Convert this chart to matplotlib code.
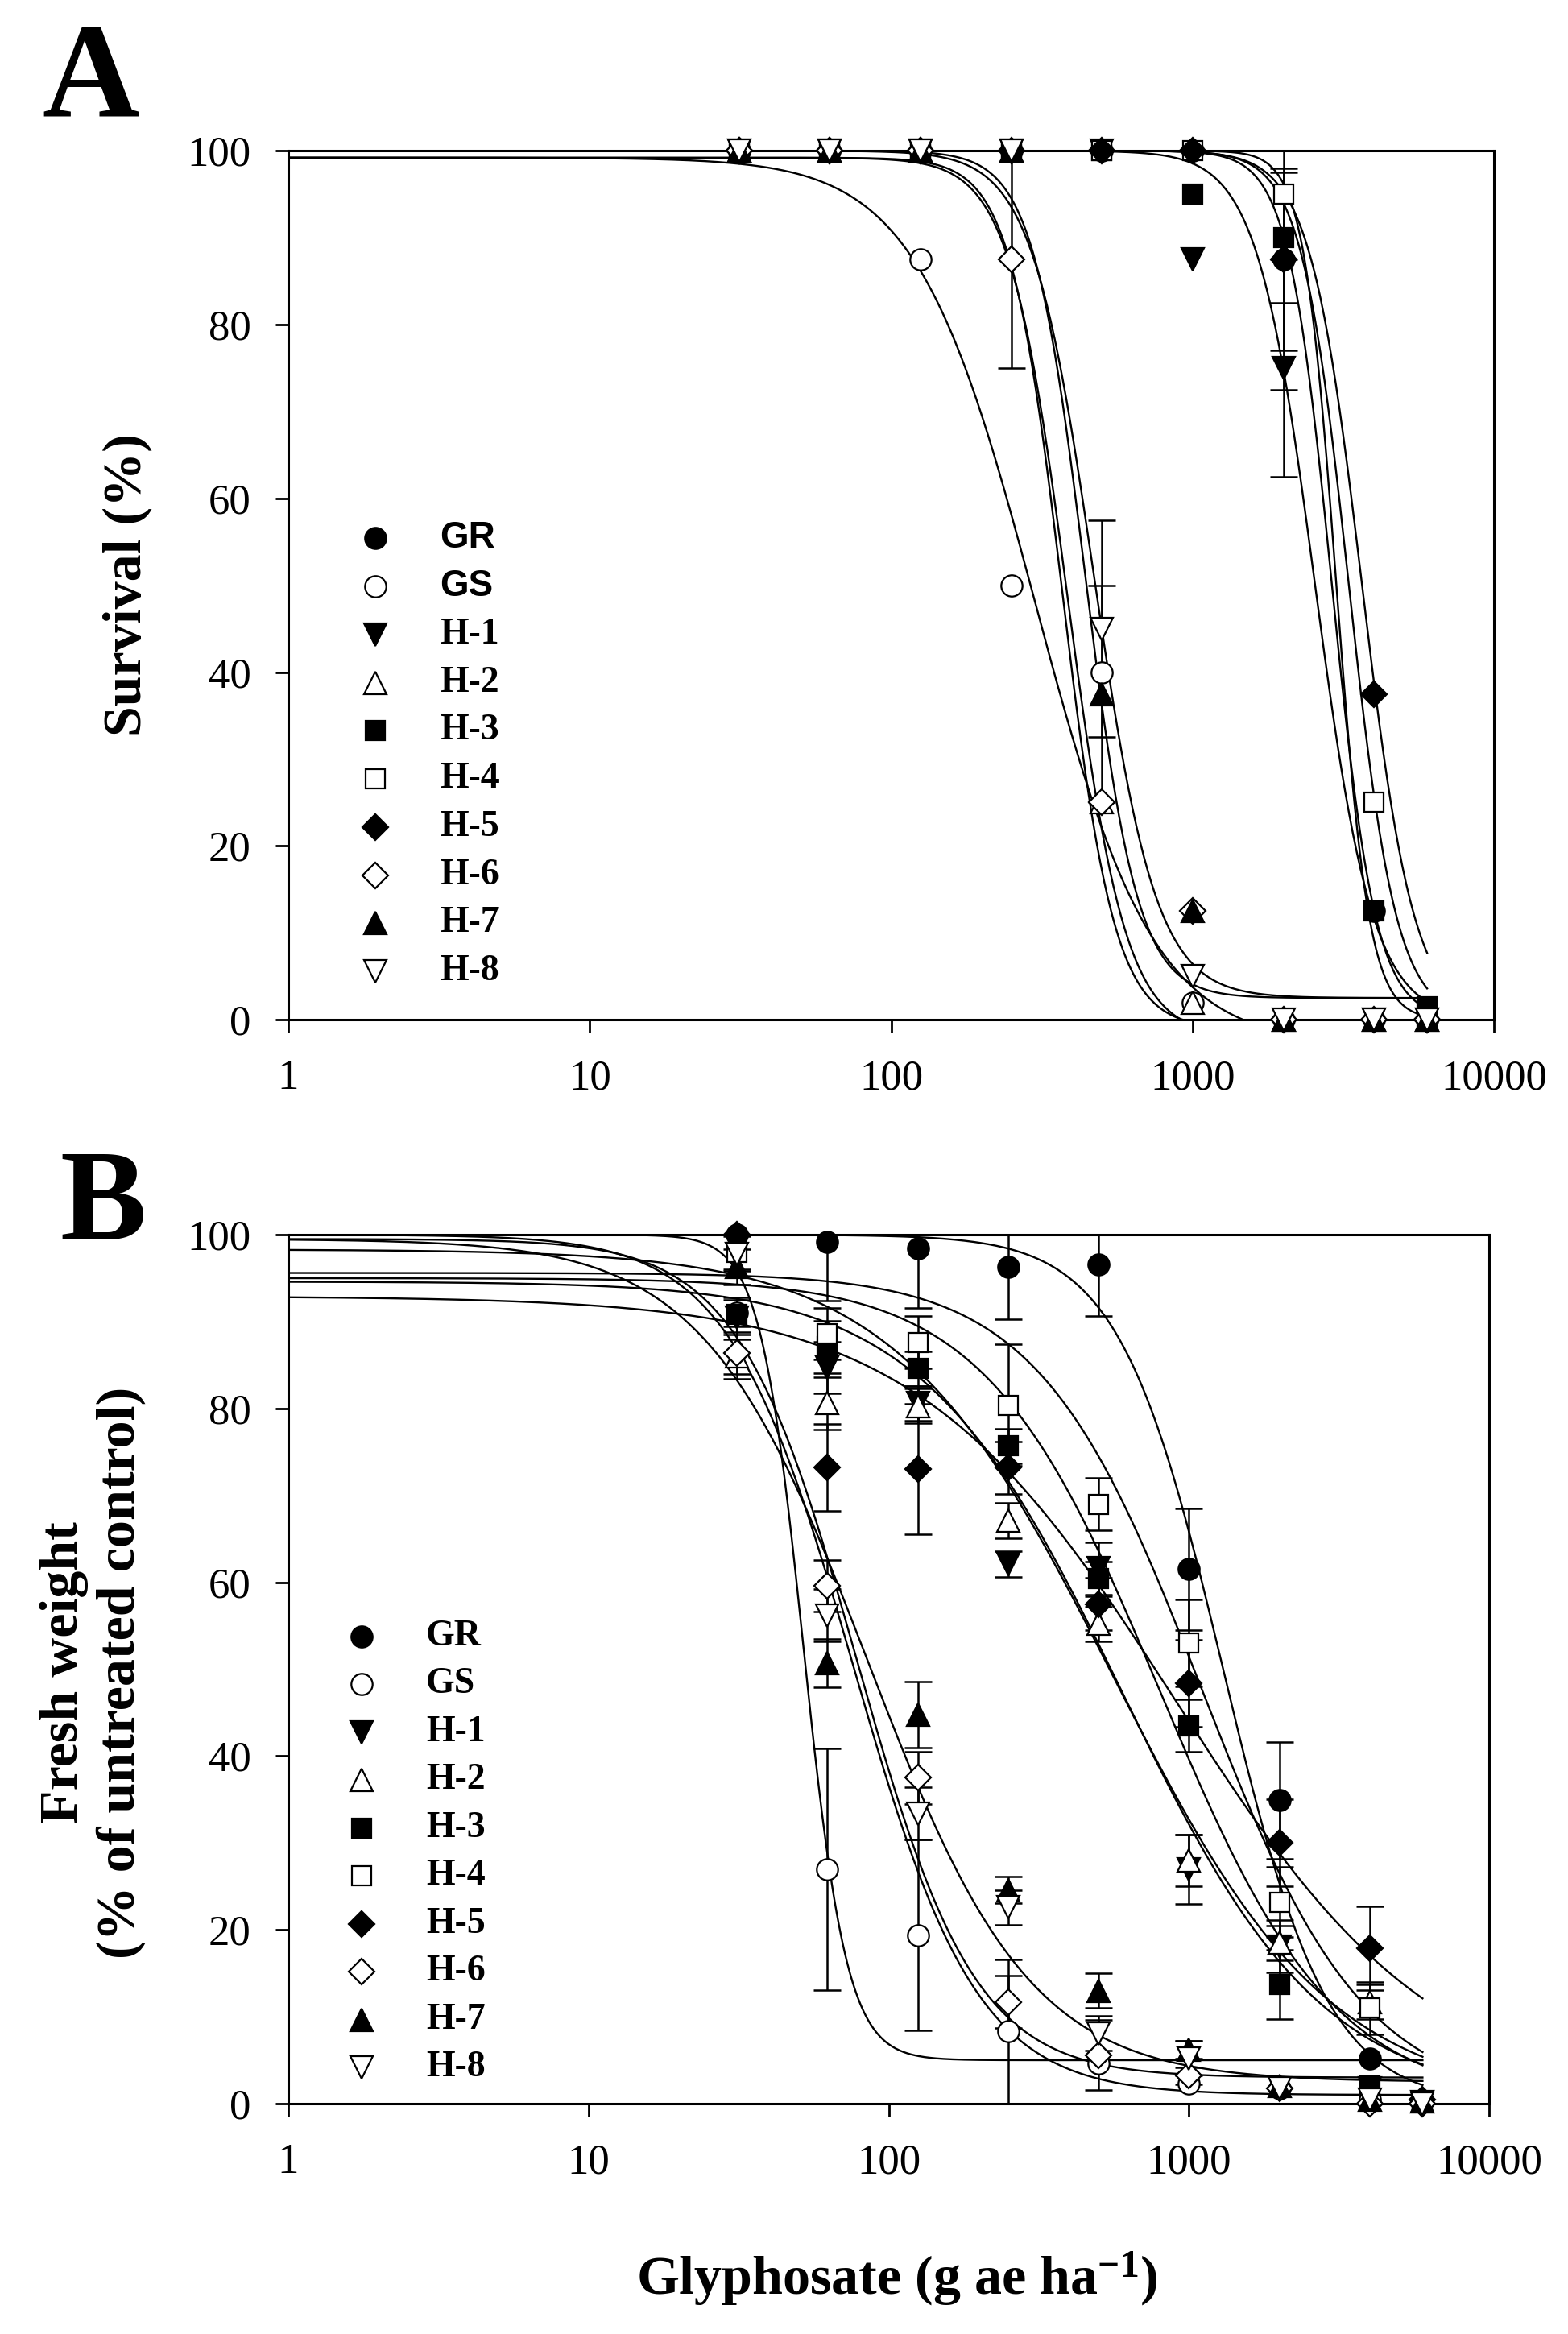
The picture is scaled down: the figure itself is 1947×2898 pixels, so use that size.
import numpy as np
import matplotlib
matplotlib.use('Agg')
import matplotlib.pyplot as plt
from matplotlib.ticker import FixedLocator, FixedFormatter, NullLocator

plt.rcParams['font.family'] = ['Liberation Serif', 'DejaVu Serif']
plt.rcParams['mathtext.fontset'] = 'custom'
plt.rcParams['mathtext.rm'] = 'Liberation Serif:bold'
plt.rcParams['mathtext.bf'] = 'Liberation Serif:bold'
plt.rcParams['mathtext.default'] = 'bf'

# 供試量 (g ae/ha)
doses = [31.25, 62.5, 125, 250, 500, 1000, 2000, 4000, 6000]
lines = ['GR', 'GS', 'H-1', 'H-2', 'H-3', 'H-4', 'H-5', 'H-6', 'H-7', 'H-8']

# A: 生存率 (%)
surv_gr = [100, 100, 100, 100, 100, 100, 87.5, 12.5, 0]
surv_gs = [100, 100, 87.5, 50, 40, 2, 0, 0, 0]
surv_h1 = [100, 100, 100, 100, 100, 87.5, 75, 0, 0]
surv_h2 = [100, 100, 100, 100, 25, 2, 0, 0, 0]
surv_h3 = [100, 100, 100, 100, 100, 95, 90, 12.5, 1.5]
surv_h4 = [100, 100, 100, 100, 100, 100, 95, 25, 0]
surv_h5 = [100, 100, 100, 100, 100, 100, 87.5, 37.5, 0]
surv_h6 = [100, 100, 100, 87.5, 25, 12.5, 0, 0, 0]
surv_h7 = [100, 100, 100, 100, 37.5, 12.5, 0, 0, 0]
surv_h8 = [100, 100, 100, 100, 45, 5, 0, 0, 0]

surv_err_gr = [0, 0, 0, 0, 0, 0, 10.5, 0, 0]
surv_err_gs = [0, 0, 0, 0, 0, 0, 0, 0, 0]
surv_err_h1 = [0, 0, 0, 0, 0, 0, 12.5, 0, 0]
surv_err_h2 = [0, 0, 0, 0, 0, 0, 0, 0, 0]
surv_err_h3 = [0, 0, 0, 0, 0, 0, 7.5, 0, 0]
surv_err_h4 = [0, 0, 0, 0, 0, 0, 0, 0, 0]
surv_err_h5 = [0, 0, 0, 0, 0, 0, 15, 0, 0]
surv_err_h6 = [0, 0, 0, 12.5, 0, 0, 0, 0, 0]
surv_err_h7 = [0, 0, 0, 0, 12.5, 0, 0, 0, 0]
surv_err_h8 = [0, 0, 0, 0, 12.5, 0, 0, 0, 0]

# A: 回帰曲線のパラメータ (下限, 上限, ED50, 傾き)
a_lower = [0, -3, 0, -1, 0, 0, 0, -2, 2.5, 2.5]
a_upper = [100, 99.2, 100, 99.2, 100, 100, 100, 99.2, 100, 100]
a_ed50 = [3000, 300, 2550, 370, 2900, 3300, 3650, 385, 440, 470]
a_slope = [8, 2.2, 4.5, 5, 6, 5.5, 5, 4.5, 5, 4.2]

# B: 生体重 (% of untreated control)
fw_gr = [100, 99.2, 98.4, 96.3, 96.6, 61.5, 34.9, 5.2, 0.3]
fw_gs = [91, 27, 19.4, 8.3, 4.6, 2.3, 1.8, 0.5, 0.3]
fw_h1 = [90.5, 84.7, 80.6, 62.1, 61.6, 27.0, 18.1, 1.8, 0.2]
fw_h2 = [86, 80.6, 80.3, 67.1, 55.2, 28.0, 18.5, 11.7, 0.3]
fw_h3 = [90.8, 87.1, 84.6, 75.7, 60.4, 43.5, 13.7, 2.0, 0.3]
fw_h4 = [98, 88.6, 87.6, 80.4, 69.0, 53.0, 23.2, 11.0, 0.3]
fw_h5 = [100, 73.2, 73.0, 73.2, 57.5, 48.4, 30.0, 17.9, 0.5]
fw_h6 = [86.4, 59.6, 37.5, 11.7, 5.6, 3.2, 1.8, 0, 0]
fw_h7 = [96.3, 50.7, 44.8, 24.6, 13.0, 6.2, 2.0, 0.5, 0.3]
fw_h8 = [97.8, 56.2, 33.4, 22.6, 8.1, 5.2, 1.8, 0.5, 0]

fw_err_gr = [0, 6.8, 6.8, 6, 6, 7, 6.7, 0, 0]
fw_err_gs = [0, 13.9, 11, 8.3, 0, 0, 0, 0, 0]
fw_err_h1 = [2, 3, 2, 1.5, 3, 4, 3, 0, 0]
fw_err_h2 = [2, 3, 2, 2, 2, 3, 2, 2, 0]
fw_err_h3 = [2, 3, 2, 2, 2, 3, 4, 0, 0]
fw_err_h4 = [2, 3, 3, 7, 3, 5, 4, 3, 0]
fw_err_h5 = [0, 5, 7.5, 3, 3, 5, 5, 4.8, 0]
fw_err_h6 = [3, 3, 3, 3, 4, 1, 0, 0, 0]
fw_err_h7 = [2, 2.8, 3.8, 1.5, 2, 1, 0, 0, 0]
fw_err_h8 = [2, 3, 3, 2, 2, 2, 0, 0, 0]

b_lower = [0, 5, 0, 0, 0, 0, 0, 1, 2.5, 3]
b_upper = [100, 100, 94.6, 98.3, 95, 95.6, 92.9, 100, 99.5, 99.5]
b_ed50 = [1300, 52, 600, 560, 800, 1100, 900, 76, 85, 78]
b_slope = [2.5, 6, 1.3, 1.2, 1.5, 1.6, 1.0, 2.1, 1.6, 2.2]

# マーカー
styles = {
    'GR': ('o', 'black', 19), 'GS': ('o', 'white', 19),
    'H-1': ('v', 'black', 20), 'H-2': ('^', 'white', 20),
    'H-3': ('s', 'black', 17), 'H-4': ('s', 'white', 17),
    'H-5': ('D', 'black', 16), 'H-6': ('D', 'white', 16),
    'H-7': ('^', 'black', 20), 'H-8': ('v', 'white', 20),
}

surv = [surv_gr, surv_gs, surv_h1, surv_h2, surv_h3, surv_h4, surv_h5, surv_h6, surv_h7, surv_h8]
surv_err = [surv_err_gr, surv_err_gs, surv_err_h1, surv_err_h2, surv_err_h3,
            surv_err_h4, surv_err_h5, surv_err_h6, surv_err_h7, surv_err_h8]
fw = [fw_gr, fw_gs, fw_h1, fw_h2, fw_h3, fw_h4, fw_h5, fw_h6, fw_h7, fw_h8]
fw_err = [fw_err_gr, fw_err_gs, fw_err_h1, fw_err_h2, fw_err_h3,
          fw_err_h4, fw_err_h5, fw_err_h6, fw_err_h7, fw_err_h8]


def loglogistic(x, c, d, e, b):
    return c + (d - c) / (1 + (x / e) ** b)


def draw_panel(ax, values, errors, lower, upper, ed50, slope):
    xs = np.geomspace(1, 6000, 600)
    for i in range(len(lines)):
        ax.plot(xs, loglogistic(xs, lower[i], upper[i], ed50[i], slope[i]),
                color='black', lw=1.7, zorder=2)
    x = np.array(doses)
    for i, name in enumerate(lines):
        y = np.array(values[i], dtype=float)
        err = np.array(errors[i], dtype=float)
        k = err > 0
        if k.any():
            ax.errorbar(x[k], y[k], yerr=err[k], fmt='none', ecolor='black',
                        elinewidth=1.8, capsize=12, capthick=1.8, zorder=3)
    for i, name in enumerate(lines):
        m, fc, ms = styles[name]
        ax.plot(doses, values[i], ls='none', marker=m, ms=ms, mfc=fc,
                mec='black', mew=1.6, zorder=4, clip_on=False)

    ax.set_xscale('log')
    ax.set_xlim(1, 10000)
    ax.set_ylim(0, 100)
    ax.xaxis.set_major_locator(FixedLocator([1, 10, 100, 1000, 10000]))
    ax.xaxis.set_major_formatter(FixedFormatter(['1', '10', '100', '1000', '10000']))
    ax.xaxis.set_minor_locator(NullLocator())
    ax.set_yticks([0, 20, 40, 60, 80, 100])
    ax.tick_params(direction='out', length=11.5, width=2, labelsize=38)
    ax.tick_params(axis='y', pad=22)
    ax.tick_params(axis='x', pad=24)
    for s in ax.spines.values():
        s.set_linewidth(2.2)


def draw_key(ax, x_mark, x_text, y_top, y_step, sans=()):
    for i, name in enumerate(lines):
        m, fc, ms = styles[name]
        y = y_top - i * y_step
        ax.plot([x_mark], [y], transform=ax.transAxes, ls='none', marker=m,
                ms=ms, mfc=fc, mec='black', mew=1.6, clip_on=False)
        fam = 'Liberation Sans' if name in sans else 'Liberation Serif'
        ax.text(x_text, y, name, transform=ax.transAxes, fontsize=33,
                fontweight='bold', family=fam, ha='left', va='center')


fig = plt.figure(figsize=(19.47, 28.98), dpi=100)
ax1 = fig.add_axes([0.1839, 0.5631, 0.7689, 0.3723])
ax2 = fig.add_axes([0.1839, 0.0987, 0.7658, 0.3723])

draw_panel(ax1, surv, surv_err, a_lower, a_upper, a_ed50, a_slope)
draw_panel(ax2, fw, fw_err, b_lower, b_upper, b_ed50, b_slope)

draw_key(ax1, 0.0721, 0.1256, 0.5542, 0.0554, sans=('GR', 'GS'))
draw_key(ax2, 0.061, 0.1147, 0.5375, 0.0551)

fig.text(0.0812, 0.7495, 'Survival (%)', rotation=90, ha='center', va='center',
         fontsize=49, fontweight='bold')
fig.text(0.059, 0.2833, 'Fresh weight\n(% of untreated control)', rotation=90,
         ha='center', va='center', multialignment='center', fontsize=49,
         fontweight='bold')
fig.text(0.572, 0.0235, 'Glyphosate (g ae ha$^{-1}$)', ha='center', va='center',
         fontsize=49, fontweight='bold')

fig.text(52 / 1947, 1 - 144 / 2898, 'A', ha='left', va='baseline',
         fontsize=120, fontweight='bold')
fig.text(74 / 1947, 1 - 1539 / 2898, 'B', ha='left', va='baseline',
         fontsize=116, fontweight='bold')

fig.savefig('out.png', dpi=100)
